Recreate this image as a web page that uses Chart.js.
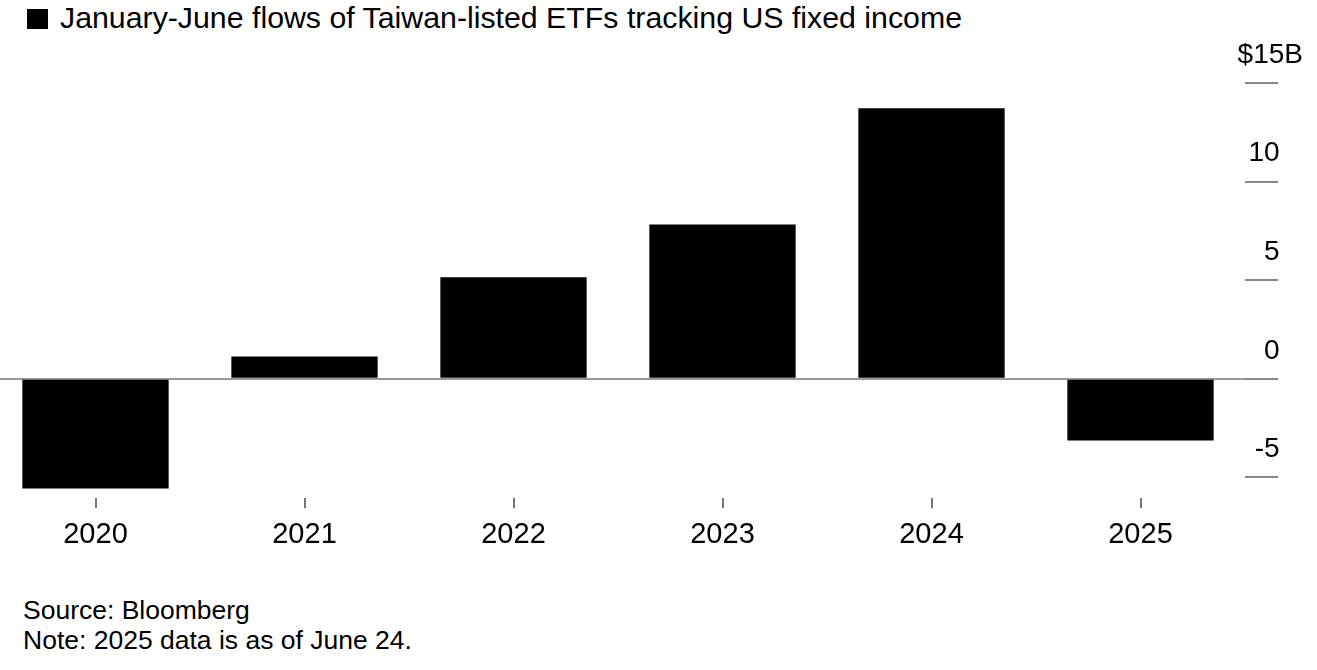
<!DOCTYPE html>
<html>
<head>
<meta charset="utf-8">
<script src="https://cdn.jsdelivr.net/npm/chart.js@4/dist/chart.umd.min.js"></script>
<style>
  html, body { margin: 0; padding: 0; background: #fff; overflow: hidden; }
  body { width: 1317px; height: 670px; position: relative; font-family: "Liberation Sans", Arial, sans-serif; color: #000; }
  #title { position: absolute; left: 27px; top: 3px; font-size: 30.3px; line-height: 30px; white-space: nowrap; }
  #title .sq { display: inline-block; width: 21px; height: 20px; background: #000; margin-right: 12px; vertical-align: -1px; }
  #wrap { position: absolute; left: -9px; top: 0; width: 1326px; height: 573px; }
  #foot { position: absolute; left: 23px; top: 595px; font-size: 26.5px; line-height: 30px; white-space: nowrap; }
</style>
</head>
<body>
<div id="title"><span class="sq"></span>January-June flows of Taiwan-listed ETFs tracking US fixed income</div>
<div id="wrap"><canvas id="c"></canvas></div>
<div id="foot">Source: Bloomberg<br>Note: 2025 data is as of June 24.</div>
<script>
const categories = ['2020', '2021', '2022', '2023', '2024', '2025'];
const flows = [-5.56, 1.13, 5.15, 7.82, 13.72, -3.12];
const tickValues = [-5, 0, 5, 10, 15];
const tickLabels = ['-5', '0', '5', '10', '$15B'];

const FONT = "'Liberation Sans', Arial, sans-serif";

new Chart(document.getElementById('c'), {
  type: 'bar',
  data: {
    labels: categories,
    datasets: [{
      data: flows,
      backgroundColor: '#000',
      borderWidth: 0,
      categoryPercentage: 1,
      barPercentage: 0.7
    }]
  },
  options: {
    responsive: true,
    maintainAspectRatio: false,
    animation: false,
    events: [],
    layout: { padding: { top: 83, left: 0, right: 0, bottom: 0 } },
    plugins: { legend: { display: false }, tooltip: { enabled: false }, title: { display: false } },
    scales: {
      x: {
        grid: { offset: false, drawOnChartArea: false, drawTicks: true, tickLength: 10, tickColor: '#777', lineWidth: 2 },
        border: { display: false },
        ticks: { color: '#000', font: { family: FONT, size: 29 }, padding: 9, maxRotation: 0 }
      },
      y: {
        position: 'right',
        min: -6.05,
        max: 15,
        afterBuildTicks: (scale) => { scale.ticks = tickValues.map(v => ({ value: v })); },
        afterFit: (scale) => { scale.width = 72; },
        grid: {
          drawOnChartArea: true,
          drawTicks: true,
          tickLength: 33,
          lineWidth: 2,
          color: (ctx) => (ctx.tick && ctx.tick.value === 0) ? '#999' : 'rgba(0,0,0,0)',
          tickColor: '#888'
        },
        border: { display: false },
        ticks: {
          mirror: true,
          crossAlign: 'near',
          padding: 58,
          labelOffset: -28,
          color: '#000',
          font: { family: FONT, size: 28 },
          callback: (value) => {
            const i = tickValues.indexOf(value);
            const t = i >= 0 ? tickLabels[i] : '';
            return t.endsWith('B') ? t : t + '\u2007 ';
          }
        }
      }
    }
  }
});
</script>
</body>
</html>
